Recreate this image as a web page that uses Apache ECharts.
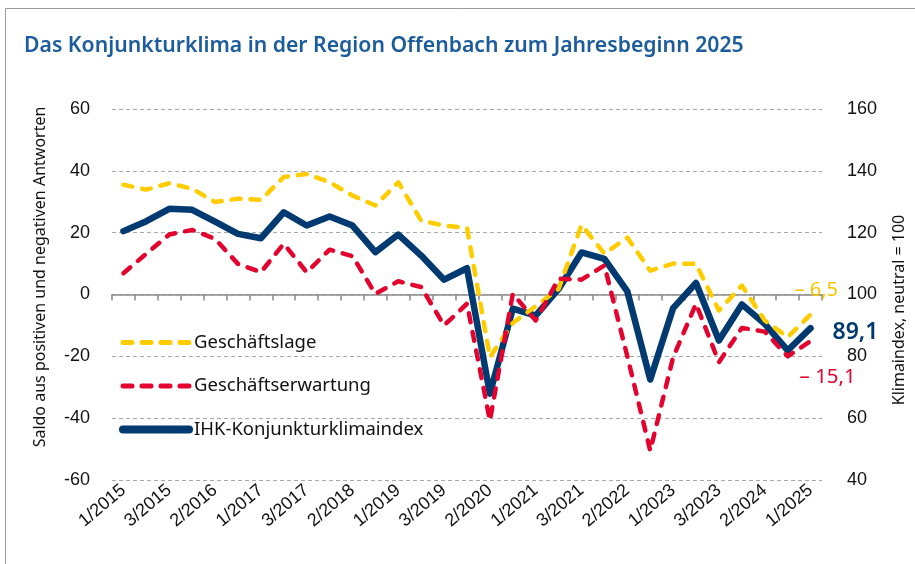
<!DOCTYPE html>
<html>
<head>
<meta charset="utf-8">
<script src="https://cdn.jsdelivr.net/npm/echarts@6/dist/echarts.min.js"></script>
<style>
html,body{margin:0;padding:0;background:#fff;}
#c{width:915px;height:564px;}
</style>
</head>
<body>
<div id="c"></div>
<script>
const categories = ['1/2015','2/2015','3/2015','1/2016','2/2016','3/2016','1/2017','2/2017','3/2017',
  '1/2018','2/2018','3/2018','1/2019','2/2019','3/2019','1/2020','2/2020','3/2020',
  '1/2021','2/2021','3/2021','1/2022','2/2022','3/2022','1/2023','2/2023','3/2023',
  '1/2024','2/2024','3/2024','1/2025'];
const geschaeftslage = [35.5,33.9,36.0,34.2,29.9,31.0,30.6,38.0,39.0,36.3,32.0,28.8,36.3,23.9,22.3,21.5,
  -20.3,-9.2,-3.8,1.8,22.5,13.2,18.4,7.7,10.0,9.9,-5.2,2.9,-8.4,-13.8,-6.5];
const geschaeftserwartung = [6.9,13.2,19.4,20.9,18.0,9.9,7.2,16.4,7.2,14.5,12.4,0.2,4.3,2.4,-10.0,-3.0,
  -40.8,0.2,-8.4,5.1,4.8,9.4,-20.0,-50.5,-20.3,-3.0,-21.9,-10.8,-12.0,-20.0,-15.1];
const klimaindex = [120.5,123.7,127.7,127.4,123.6,119.6,118.2,126.6,122.3,125.2,122.3,113.7,119.4,112.6,104.8,108.5,
  67.9,95.4,93.2,101.8,113.6,111.5,101.0,72.5,95.6,103.7,85.1,96.8,90.5,81.9,89.1];
const leftTicks = {min:-60, max:60, interval:20};
const rightTicks = {min:40, max:160, interval:20};
const endTexts = {lage:'– 6,5', erwartung:'– 15,1', index:'89,1'};

const cYellow = '#ffcc00', cRed = '#e4032e', cBlue = '#003a70';
const sans = '"Noto Sans", sans-serif';
const arial = '"Liberation Sans", Arial, sans-serif';

const chart = echarts.init(document.getElementById('c'), null, {renderer:'canvas'});
chart.setOption({
  animation:false,
  backgroundColor:'#fff',
  title:{
    text:'Das Konjunkturklima in der Region Offenbach zum Jahresbeginn 2025',
    left:19, top:30,
    textStyle:{fontFamily:sans, fontSize:21.2, fontWeight:600, color:'#1b5c9c'}
  },
  graphic:[{type:'rect', shape:{x:5.5,y:8.5,width:960,height:600}, style:{fill:'none', stroke:'#9a9a9a', lineWidth:1}, silent:true}],
  grid:{left:112, right:80, top:109, bottom:84},
  legend:{
    data:[
      {name:'Geschäftslage', lineStyle:{width:5}},
      {name:'Geschäftserwartung', lineStyle:{width:5}},
      {name:'IHK-Konjunkturklimaindex', lineStyle:{width:8}}
    ],
    orient:'vertical', left:114, top:328, itemWidth:66, itemHeight:16, itemGap:24.5,
    itemStyle:{opacity:0},
    textStyle:{fontFamily:sans, fontSize:18.5, color:'#111', padding:[0,0,0,0]}
  },
  xAxis:{
    type:'category', data:categories, boundaryGap:true,
    axisLine:{lineStyle:{color:'#8a8a8a', width:1.5}},
    axisTick:{show:true, interval:0, length:6, lineStyle:{color:'#8a8a8a', width:1.5}},
    axisLabel:{interval:1, rotate:40, fontFamily:arial, fontSize:18, color:'#111', margin:8},
    splitLine:{show:false}
  },
  yAxis:[{
    type:'value', min:leftTicks.min, max:leftTicks.max, interval:leftTicks.interval,
    name:'Saldo aus positiven und negativen Antworten', nameLocation:'middle', nameGap:64, nameRotate:90,
    nameTextStyle:{fontFamily:sans, fontSize:16, color:'#111', padding:[0,0,0,35]},
    axisLine:{show:false}, axisTick:{show:false},
    axisLabel:{fontFamily:arial, fontSize:18, color:'#111', margin:22},
    splitLine:{lineStyle:{color:'#a8a8a8', type:[4,3], width:1}}
  },{
    type:'value', min:rightTicks.min, max:rightTicks.max, interval:rightTicks.interval, position:'right',
    name:'Klimaindex, neutral = 100', nameLocation:'middle', nameGap:69, nameRotate:90,
    nameTextStyle:{fontFamily:sans, fontSize:16, color:'#111', padding:[0,31,0,0]},
    axisLine:{show:false}, axisTick:{show:false},
    axisLabel:{fontFamily:arial, fontSize:18, color:'#111', margin:25},
    splitLine:{show:false}
  }],
  series:[{
    name:'IHK-Konjunkturklimaindex', type:'line', yAxisIndex:1, data:klimaindex, symbol:'none', z:3,
    lineStyle:{color:cBlue, width:6.5, cap:'round', join:'round'}, itemStyle:{color:cBlue},
    endLabel:{show:true, formatter:endTexts.index, align:'left', verticalAlign:'middle', distance:0, offset:[22,4],
      fontFamily:sans, fontSize:23, fontWeight:600, color:cBlue}
  },{
    name:'Geschäftslage', type:'line', data:geschaeftslage, symbol:'none', z:4,
    lineStyle:{color:cYellow, width:4.5, type:[9,10], cap:'round', join:'round'}, itemStyle:{color:cYellow},
    endLabel:{show:true, formatter:endTexts.lage, align:'left', verticalAlign:'middle', distance:0, offset:[-16,-24],
      fontFamily:sans, fontSize:20, color:'#f7c600'}
  },{
    name:'Geschäftserwartung', type:'line', data:geschaeftserwartung, symbol:'none', z:5,
    lineStyle:{color:cRed, width:4.5, type:[9,10], cap:'round', join:'round'}, itemStyle:{color:cRed},
    endLabel:{show:true, formatter:endTexts.erwartung, align:'left', verticalAlign:'middle', distance:0, offset:[-11,36],
      fontFamily:sans, fontSize:20.5, color:cRed}
  }]
});
</script>
</body>
</html>
